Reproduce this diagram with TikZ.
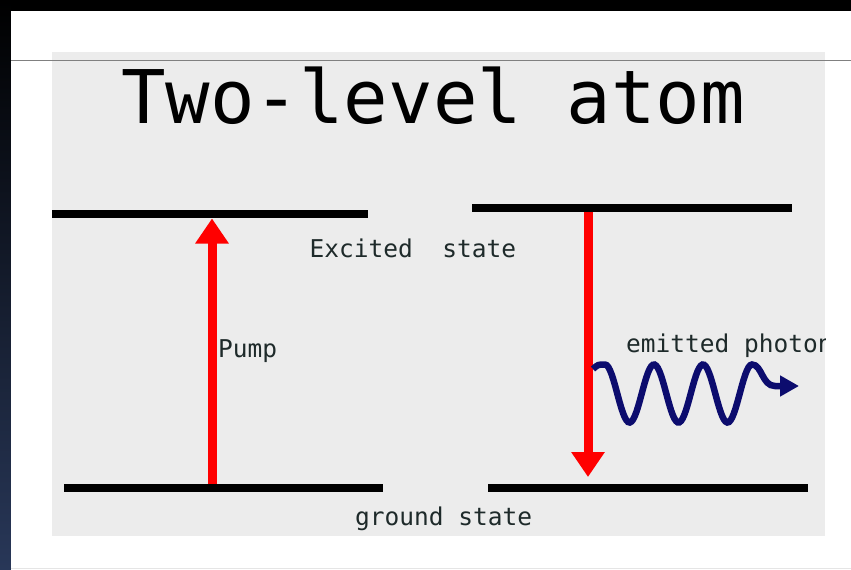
\documentclass[tikz,border=0pt]{standalone}
\usepackage{fontspec}
\newfontfamily\atomfont{DejaVu Sans Mono}
\usetikzlibrary{arrows.meta}
\definecolor{panelgray}{RGB}{236,236,236}
\definecolor{photonblue}{RGB}{12,12,110}
\definecolor{labelgray}{RGB}{30,42,42}
\definecolor{edgenavy}{RGB}{40,55,88}

\begin{document}
\begin{tikzpicture}[x=1pt,y=-1pt,
  level/.style={line width=8pt,black},
  transition/.style={line width=9pt,red,-{Triangle[length=25pt,width=32pt]}},
  photon/.style={line width=6.5pt,photonblue,-{Triangle[length=19pt,width=20pt]}},
  statelabel/.style={anchor=base west,inner sep=0pt,text=labelgray,
                     font=\atomfont\fontsize{24.5}{28}\selectfont}]
  \useasboundingbox (0,0) rectangle (851,570);
  % slide frame and the grey panel of the figure
  \fill[black] (0,0) rectangle (851,570);
  \shade[top color=black,bottom color=edgenavy] (0,0) rectangle (11,570);
  \fill[white] (11,11) rectangle (851,570);
  \fill[panelgray] (52,52) rectangle (825,536);
  \draw[gray,line width=1pt] (11,60) -- (851,60);
  \draw[black!10,line width=1pt] (11,568) -- (851,568);
  \node[anchor=base west,inner sep=0pt,font=\atomfont\fontsize{74}{80}\selectfont]
    (title) at (121,123) {Two-level atom};

  % energy levels: excited (ex) and ground (gd), left (A) and right (B)
  \foreach \n/\xa/\xb/\y in {exA/52/368/214,gdA/64/383/488,exB/472/792/208,gdB/488/808/488} {
    \coordinate (\n-w) at (\xa,\y);
    \coordinate (\n-e) at (\xb,\y);
    \draw[level] (\n-w) -- (\n-e);
  }

  % pumping up and decaying down
  \coordinate (pump-s) at (212,484);
  \coordinate (pump-t) at (212,218.5);
  \draw[transition] (pump-s) -- (pump-t);
  \coordinate (emit-s) at (588,212);
  \coordinate (emit-t) at (588,477);
  \draw[transition] (emit-s) -- (emit-t);

  % the emitted photon as a wave packet
  \coordinate (ph-s) at (593,369);
  \coordinate (ph-t) at (799,386);
  \draw[photon] (ph-s) .. controls (598,364.5) .. (605,364.5)
    -- plot[domain=0:147,samples=90] ({605+\x},{393.5-29*cos(\x/49*360)})
    .. controls (762,364.5) and (762,386) .. (775,386) -- (ph-t);

  \node[statelabel] (exlbl) at (309.5,257) {Excited\ \ state};
  \node[statelabel] (pumplbl) at (218,357) {Pump};
  \node[statelabel] (gdlbl) at (355,525) {ground state};
  \begin{scope}
    \clip (52,52) rectangle (825,536);
    \node[statelabel] (phlbl) at (626,352) {emitted photon};
  \end{scope}
\end{tikzpicture}
\end{document}
